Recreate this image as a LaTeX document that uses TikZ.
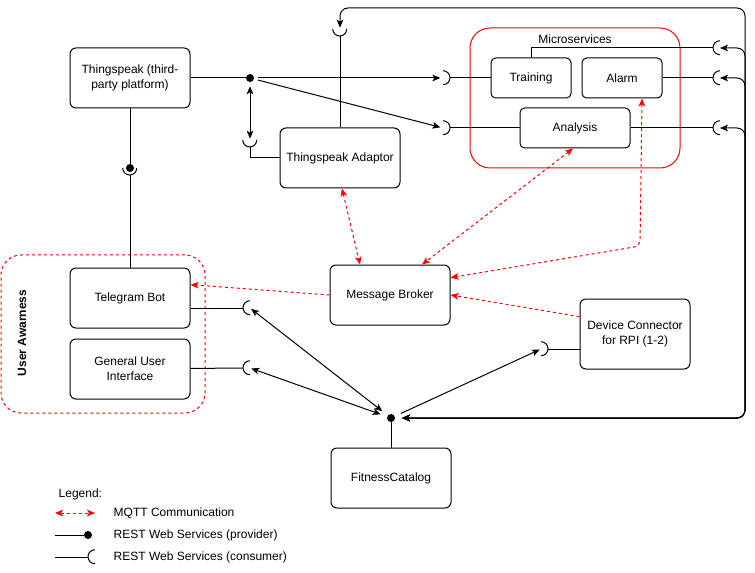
\documentclass[tikz,border=0pt]{standalone}
\usepackage{fontspec}
\setmainfont{Liberation Sans}
\usetikzlibrary{arrows.meta,positioning,calc}

\begin{document}
\begin{tikzpicture}[
    x=0.75pt, y=-0.75pt,
    >={Stealth[length=6pt, width=5pt, inset=1.5pt]},
    every node/.style={font=\fontsize{9}{11}\selectfont},
    module/.style={rectangle, draw, rounded corners=4.5pt, align=center, line width=0.75pt, minimum width=90pt, minimum height=45pt},
    service/.style={module, minimum width=60pt, minimum height=30pt, rounded corners=3.5pt},
    groupbox/.style={rectangle, draw=red, rounded corners=15pt, line width=0.75pt},
    provider/.style={circle, fill, inner sep=0pt, minimum size=6pt},
    socket/.style={circle, inner sep=0pt, minimum size=10.5pt},
    rest/.style={line width=0.75pt},
    mqtt/.style={red, line width=0.75pt, dash pattern=on 2.25pt off 2.25pt}
]
\useasboundingbox (0,0) rectangle (755,573);

% Groups
\node[groupbox, minimum width=157.5pt, minimum height=105pt] (micro) at (575,98) {};
\node (microlabel) at (575,39) {Microservices};
\node[groupbox, dash pattern=on 2.25pt off 2.25pt, minimum width=153pt, minimum height=118.5pt] (aware) at (103,334) {};
\node[rotate=90, font=\bfseries\fontsize{9}{11}\selectfont] (awarelabel) at (22,333) {User Awarness};

% Top row
\node[module] (tsp) at (130,78) {Thingspeak (third-\\party platform)};
\node[service] (training) at (531,78) {Training};
\node[service, right=7.5pt of training] (alarm) {Alarm};
\node[service, minimum width=82.5pt] (analysis) at (575,128) {Analysis};
\node[module] (adaptor) at (340,158) {Thingspeak Adaptor};

% Middle row
\node[module] (broker) at (390,295) {Message Broker};
\node[module, minimum width=82.5pt, minimum height=52.5pt] (device) at (635,334) {Device Connector\\for RPI (1-2)};
\node[module] (telegram) at (130,298) {Telegram Bot};
\node[module, below=7.5pt of telegram] (gui) {General User\\Interface};

% Bottom row
\node[module] (catalog) at (391,478) {FitnessCatalog};

% Providers and consumers
\node[provider] (tspDot) at (250,78) {};
\node[provider] (botDot) at (130,168) {};
\node[provider] (catDot) at (391,418) {};
\node[socket] (sTrain) at (443,78) {};
\node[socket] (sAnalysis) at (443,128) {};
\node[socket] (sLink) at (250,140) {};
\node[socket] (sAdaptor) at (340,29) {};
\node[socket] (sTrainR) at (720,48) {};
\node[socket] (sAlarmR) at (720,78) {};
\node[socket] (sAnalysisR) at (720,128) {};
\node[socket] (sBot) at (130,168) {};
\node[socket] (sTelegram) at (250,308) {};
\node[socket] (sGui) at (250,368) {};
\node[socket] (sDevice) at (541,349) {};
\coordinate (busTop) at (745,8);
\coordinate (alarmBend) at (640,246);

% Socket arcs
\draw[rest] (sTrain.north) arc[start angle=-90, end angle=90, radius=7];
\draw[rest] (sAnalysis.north) arc[start angle=-90, end angle=90, radius=7];
\draw[rest] (sDevice.north) arc[start angle=-90, end angle=90, radius=7];
\draw[rest] (sTrainR.north) arc[start angle=-90, end angle=-270, radius=7];
\draw[rest] (sAlarmR.north) arc[start angle=-90, end angle=-270, radius=7];
\draw[rest] (sAnalysisR.north) arc[start angle=-90, end angle=-270, radius=7];
\draw[rest] (sTelegram.north) arc[start angle=-90, end angle=-270, radius=7];
\draw[rest] (sGui.north) arc[start angle=-90, end angle=-270, radius=7];
\draw[rest] (sLink.west) arc[start angle=180, end angle=0, radius=7];
\draw[rest] (sAdaptor.west) arc[start angle=180, end angle=0, radius=7];
\draw[rest] (sBot.west) arc[start angle=180, end angle=0, radius=7];

% REST links
\draw[rest] (tsp) -- (tspDot);
\draw[rest, ->, shorten <=3pt, shorten >=2pt] (tspDot) -- (sTrain.center);
\draw[rest] (sTrain.east) -- (training);
\draw[rest, ->, shorten <=3pt, shorten >=2pt] (tspDot) -- (sAnalysis.center);
\draw[rest] (sAnalysis.east) -- (analysis);
\draw[rest, <->, shorten <=3pt, shorten >=1pt] (tspDot) -- (sLink.center);
\draw[rest] (sLink.south) |- (adaptor.west);
\draw[rest] (adaptor) -- (sAdaptor.south);
\draw[rest] (training) |- (sTrainR.west);
\draw[rest] (alarm) -- (sAlarmR.west);
\draw[rest] (analysis) -- (sAnalysisR.west);
\draw[rest] (tsp) -- (botDot);
\draw[rest] (sBot.south) -- (telegram);
\draw[rest] (sTelegram.west -| telegram.east) -- (sTelegram.west);
\draw[rest] (gui) -- (sGui.west);
\draw[rest] (catDot) -- (catalog);
\draw[rest, <->, shorten <=5pt, shorten >=1pt] (catDot) -- (sTelegram.center);
\draw[rest, <->, shorten <=5pt, shorten >=1pt] (catDot) -- (sGui.center);
\draw[rest, ->, shorten <=5pt, shorten >=1pt] (catDot) -- (sDevice.center);
\draw[rest] (sDevice.east) -- (sDevice.east -| device.west);

% Bus on the right
\draw[rest, <->, rounded corners=6pt, shorten <=5pt, shorten >=1pt] (catDot) -| (busTop) -| (sAdaptor.center);
\draw[rest, <->, rounded corners=6pt, shorten <=5pt] (catDot) -| (busTop |- sTrainR) -- (sTrainR.center);
\draw[rest, <->, rounded corners=6pt, shorten <=5pt] (catDot) -| (busTop |- sAlarmR) -- (sAlarmR.center);
\draw[rest, <->, rounded corners=6pt, shorten <=5pt] (catDot) -| (busTop |- sAnalysisR) -- (sAnalysisR.center);

% MQTT links
\draw[mqtt, <->] ([xshift=1.5pt]adaptor.south) -- ([xshift=-22.5pt]broker.north);
\draw[mqtt, <->] ([xshift=-1.5pt]analysis.south) -- ([xshift=24pt]broker.north);
\draw[mqtt, <->, rounded corners=4pt] ([xshift=15pt]alarm.south) -- (alarmBend) -- ([yshift=13pt]broker.east);
\draw[mqtt, ->] ([yshift=13pt]device.west) -- (broker.east);
\draw[mqtt, ->] (broker.west) -- ([yshift=10pt]telegram.east);

% Legend
\node[anchor=west] (legend) at (54,494) {Legend:};
\coordinate (mqttA) at (55,513);
\coordinate (mqttB) at (95,513);
\draw[mqtt, <->] (mqttA) -- (mqttB);
\node[anchor=west] (mqttText) at (109,513) {MQTT Communication};
\coordinate (provA) at (55,535);
\node[provider] (provDot) at (88,535) {};
\draw[rest] (provA) -- (provDot);
\node[anchor=west] (provText) at (109,535) {REST Web Services (provider)};
\coordinate (consA) at (55,557);
\node[socket] (consSock) at (95,557) {};
\draw[rest] (consA) -- (consSock.west);
\draw[rest] (consSock.north) arc[start angle=-90, end angle=-270, radius=7];
\node[anchor=west] (consText) at (109,557) {REST Web Services (consumer)};

\end{tikzpicture}
\end{document}
